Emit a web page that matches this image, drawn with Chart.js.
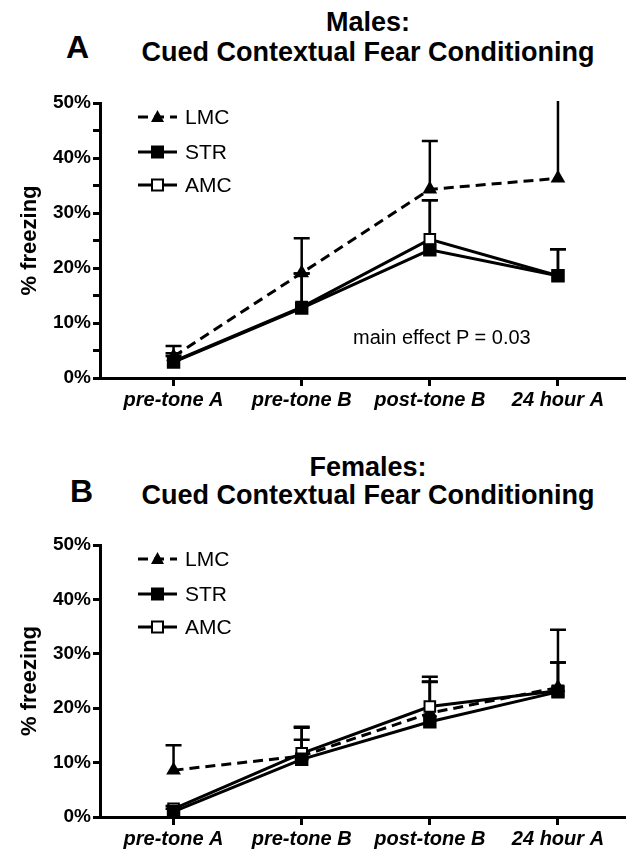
<!DOCTYPE html>
<html>
<head>
<meta charset="utf-8">
<script src="https://cdn.jsdelivr.net/npm/chart.js@4.4.0/dist/chart.umd.min.js"></script>
<style>
  body { margin: 0; background: #fff; width: 635px; height: 858px; position: relative; overflow: hidden;
         font-family: "Liberation Sans", Arial, sans-serif; color: #000; }
  .panel { position: absolute; left: 0; width: 635px; }
  .ttl { position: absolute; left: 118px; width: 500px; text-align: center; font-weight: bold; font-size: 27px; line-height: 30px; }
  .letter { position: absolute; font-weight: bold; font-size: 32px; line-height: 34px; }
  .note { position: absolute; font-size: 20px; line-height: 22px; }
</style>
</head>
<body>
<div class="ttl" style="top:7px">Males:</div>
<div class="ttl" style="top:37px">Cued Contextual Fear Conditioning</div>
<div class="letter" style="left:66px;top:30px">A</div>

<div class="ttl" style="top:452px">Females:</div>
<div class="ttl" style="top:480px">Cued Contextual Fear Conditioning</div>
<div class="letter" style="left:70px;top:474px">B</div>

<div class="panel" style="top:0;height:430px"><canvas id="males"></canvas></div>
<div class="panel" style="top:430px;height:428px"><canvas id="females"></canvas></div>
<div class="note" style="left:353px;top:326px">main effect P = 0.03</div>

<script>
// time points on the x axis
const timepoints = ['pre-tone A', 'pre-tone B', 'post-tone B', '24 hour A'];
const groups = ['LMC', 'STR', 'AMC'];
const yTicks = [0, 10, 20, 30, 40, 50];

// males, mean % freezing
const malesLMC = [3.9, 19.1, 34.3, 36.3];
const malesSTR = [2.9, 12.7, 23.3, 18.6];
const malesAMC = [3.0, 12.9, 25.2, 18.6];
// males, SEM (upper bars only)
const malesLMCErr = [1.9, 6.3, 8.8, 16.0];
const malesSTRErr = [1.6, 6.3, 9.0, 4.8];
const malesAMCErr = [1.0, 6.1, 7.1, 4.8];

// females, mean % freezing
const femalesLMC = [8.6, 11.2, 19.1, 23.8];
const femalesSTR = [1.0, 10.6, 17.5, 23.0];
const femalesAMC = [1.5, 11.7, 20.3, 23.2];
// females, SEM
const femalesLMCErr = [4.6, 3.0, 5.8, 10.6];
const femalesSTRErr = [0.5, 5.8, 7.3, 5.4];
const femalesAMCErr = [0.5, 4.9, 5.5, 5.2];

// draws upper error bars behind the markers
const errorBars = {
    id: 'errorBars',
    beforeDatasetsDraw(chart) {
        const { ctx, chartArea, scales } = chart;
        ctx.save();
        ctx.beginPath();
        ctx.rect(chartArea.left, chartArea.top - 2, chartArea.width, chartArea.height + 2);
        ctx.clip();
        ctx.strokeStyle = '#000';
        ctx.lineWidth = 2.5;
        chart.data.datasets.forEach(ds => {
            ds.data.forEach((p, i) => {
                const px = scales.x.getPixelForValue(p.x);
                const y0 = scales.y.getPixelForValue(p.y);
                const top = p.y + ds.errors[i];
                const y1 = scales.y.getPixelForValue(top);
                ctx.beginPath();
                ctx.moveTo(px, y0);
                ctx.lineTo(px, y1);
                if (top <= scales.y.max) {
                    ctx.moveTo(px - 8, y1);
                    ctx.lineTo(px + 8, y1);
                }
                ctx.stroke();
            });
        });
        ctx.restore();
    }
};

// legend in the upper left: line sample with marker, then name
const sampleLegend = {
    id: 'sampleLegend',
    afterDraw(chart) {
        const { ctx, chartArea } = chart;
        const rows = [14, 49, 82];
        ctx.save();
        chart.data.datasets.forEach((ds, k) => {
            const y = chartArea.top + rows[k];
            const x0 = chartArea.left + 38, x1 = chartArea.left + 77, xm = (x0 + x1) / 2;
            ctx.strokeStyle = '#000';
            ctx.lineWidth = 3;
            ctx.setLineDash(ds.borderDash || []);
            ctx.beginPath();
            ctx.moveTo(x0, y);
            ctx.lineTo(x1, y);
            ctx.stroke();
            ctx.setLineDash([]);
            ctx.beginPath();
            if (ds.pointStyle === 'triangle') {
                ctx.moveTo(xm, y - 7);
                ctx.lineTo(xm + 6.5, y + 5);
                ctx.lineTo(xm - 6.5, y + 5);
                ctx.closePath();
                ctx.fillStyle = '#000';
                ctx.fill();
            } else {
                ctx.rect(xm - 5.5, y - 5.5, 11, 11);
                ctx.fillStyle = ds.pointBackgroundColor;
                ctx.fill();
                ctx.lineWidth = 2;
                ctx.stroke();
            }
            ctx.fillStyle = '#000';
            ctx.font = '21px "Liberation Sans", Arial, sans-serif';
            ctx.textBaseline = 'middle';
            ctx.fillText(groups[k], chartArea.left + 85, y + 1);
        });
        ctx.restore();
    }
};

function points(values) {
    return values.map((v, i) => ({ x: i, y: v }));
}

function makeDatasets(lmc, str, amc, lmcErr, strErr, amcErr) {
    return [
        {
            label: groups[0], data: points(lmc), errors: lmcErr, order: 2,
            borderColor: '#000', borderWidth: 3, borderDash: [10, 6],
            pointStyle: 'triangle', pointRadius: 8.5, pointBackgroundColor: '#000', pointBorderWidth: 0
        },
        {
            label: groups[1], data: points(str), errors: strErr, order: 0,
            borderColor: '#000', borderWidth: 3,
            pointStyle: 'rect', pointRadius: 9.5, pointBackgroundColor: '#000', pointBorderWidth: 0
        },
        {
            label: groups[2], data: points(amc), errors: amcErr, order: 1,
            borderColor: '#000', borderWidth: 3,
            pointStyle: 'rect', pointRadius: 7.5, pointBackgroundColor: '#fff',
            pointBorderColor: '#000', pointBorderWidth: 2
        }
    ];
}

function makeChart(id, datasets, opts) {
    const ctx = document.getElementById(id).getContext('2d');
    return new Chart(ctx, {
        type: 'line',
        data: { datasets: datasets },
        options: {
            responsive: true,
            maintainAspectRatio: false,
            animation: false,
            layout: { padding: { top: opts.top, right: 6, left: 0, bottom: 0 } },
            plugins: { legend: { display: false }, tooltip: { enabled: false } },
            scales: {
                x: {
                    type: 'linear',
                    min: -0.574,
                    max: 3.527,
                    afterBuildTicks: s => { s.ticks = timepoints.map((t, i) => ({ value: i })); },
                    afterFit: s => { s.height = opts.xHeight; },
                    border: { display: true, color: '#000', width: 3 },
                    grid: { display: true, drawOnChartArea: false, drawTicks: true, tickLength: 8, tickWidth: 3, tickColor: '#000' },
                    ticks: {
                        color: '#000',
                        padding: 2,
                        maxRotation: 0,
                        font: { family: '"Liberation Sans", Arial, sans-serif', size: 20, weight: 'bold', style: 'italic' },
                        callback: v => timepoints[v]
                    }
                },
                y: {
                    min: 0,
                    max: 50,
                    afterBuildTicks: s => {
                        const step = opts.minor ? 5 : 10;
                        const t = [];
                        for (let v = 0; v <= 50; v += step) t.push({ value: v });
                        s.ticks = t;
                    },
                    afterFit: s => { s.width = 100; },
                    border: { display: true, color: '#000', width: 3 },
                    grid: { display: true, drawOnChartArea: false, drawTicks: true, tickLength: 7, tickWidth: 3, tickColor: '#000' },
                    title: {
                        display: true,
                        text: '% freezing',
                        color: '#000',
                        padding: { top: 17, bottom: 0 },
                        font: { family: '"Liberation Sans", Arial, sans-serif', size: 22, weight: 'bold' }
                    },
                    ticks: {
                        color: '#000',
                        padding: 2,
                        font: { family: '"Liberation Sans", Arial, sans-serif', size: 19, weight: 'bold' },
                        callback: v => yTicks.includes(v) ? v + '%' : ''
                    }
                }
            }
        },
        plugins: [errorBars, sampleLegend]
    });
}

makeChart('males',
    makeDatasets(malesLMC, malesSTR, malesAMC, malesLMCErr, malesSTRErr, malesAMCErr),
    { top: 103, xHeight: 52, minor: true });
makeChart('females',
    makeDatasets(femalesLMC, femalesSTR, femalesAMC, femalesLMCErr, femalesSTRErr, femalesAMCErr),
    { top: 115, xHeight: 41, minor: false });
</script>
</body>
</html>
